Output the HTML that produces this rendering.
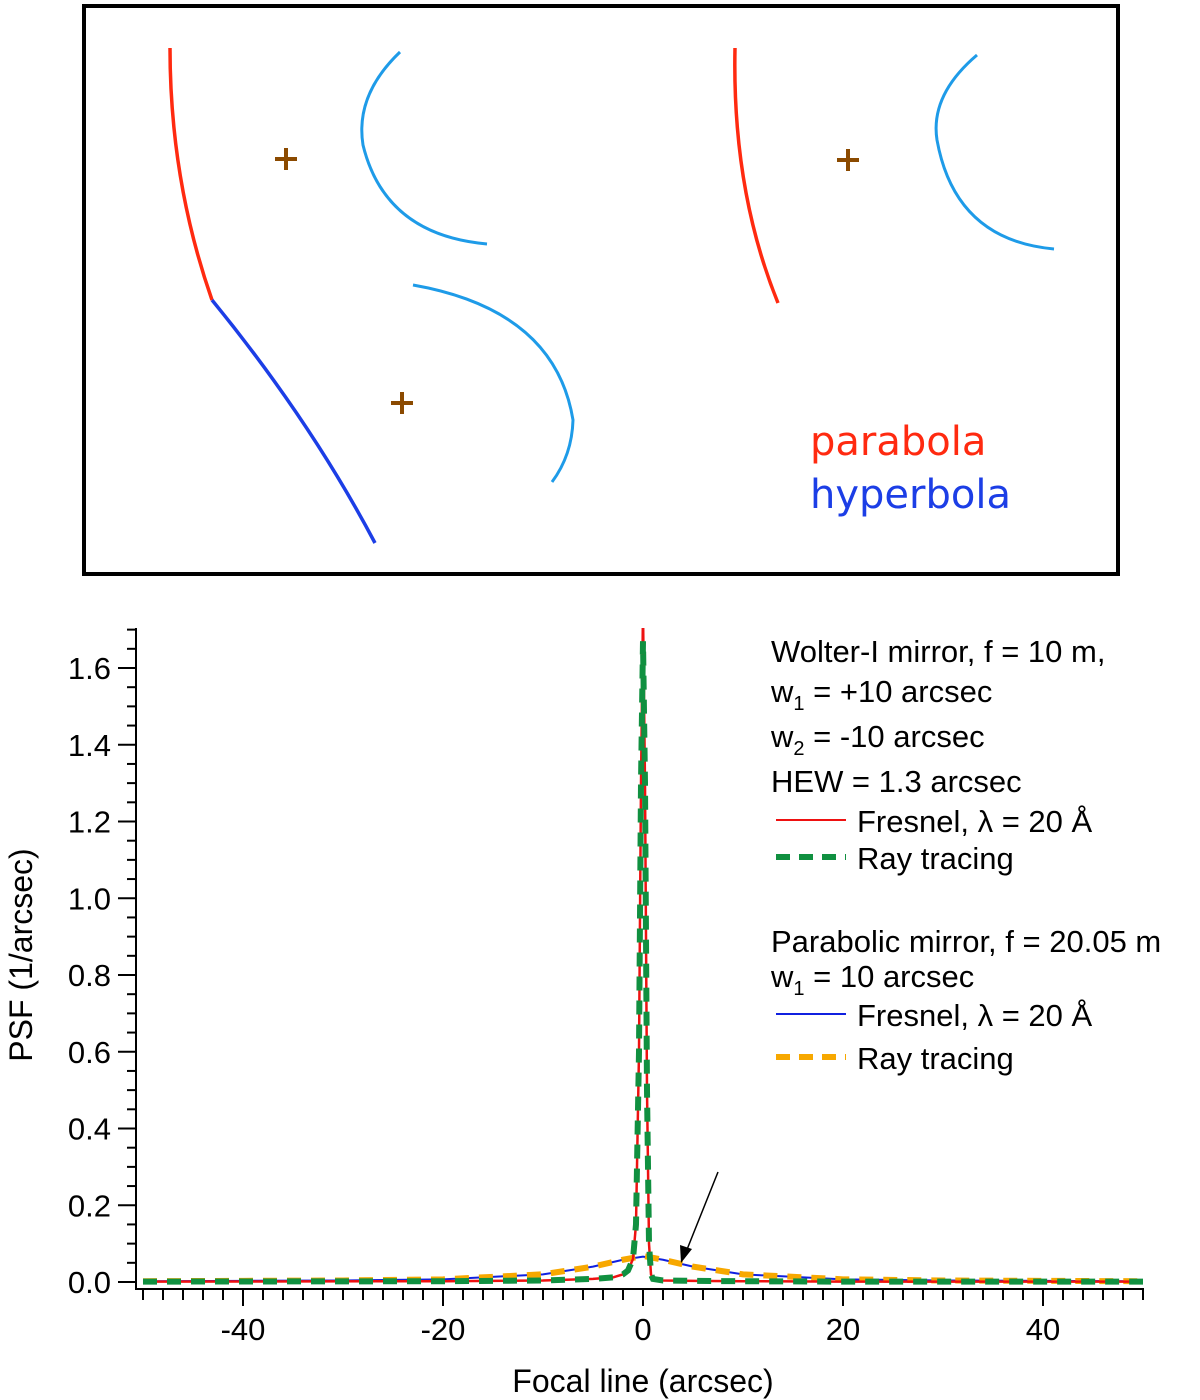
<!DOCTYPE html>
<html><head><meta charset="utf-8"><style>
body{margin:0;background:#fff;}
svg{display:block;font-family:"Liberation Sans",sans-serif;}
</style></head><body>
<svg id="fig" width="1200" height="1400">
<g>
<rect x="84" y="6" width="1034" height="568" fill="none" stroke="#000" stroke-width="4"/>
<path d="M170,48 Q170,180 212,300" fill="none" stroke="#ff2a10" stroke-width="3.5"/>
<path d="M212,300 Q310,420 375,543" fill="none" stroke="#1c3ee6" stroke-width="3.5"/>
<path d="M400,52 Q355,95 363,145 Q385,235 487,244" fill="none" stroke="#1e9be8" stroke-width="3"/>
<path d="M413,285 Q555,310 573,420 Q572,455 552,482" fill="none" stroke="#1e9be8" stroke-width="3"/>
<path d="M735,48 Q732,190 778,303" fill="none" stroke="#ff2a10" stroke-width="3.5"/>
<path d="M977,55 Q930,95 937,140 Q955,240 1054,249" fill="none" stroke="#1e9be8" stroke-width="3"/>
<g stroke="#8b4a00" stroke-width="4">
<path d="M275,159h22M286,148v22"/><path d="M837,160h22M848,149v22"/><path d="M391,403h22M402,392v22"/>
</g>
<text x="810" y="455" font-size="40" fill="#ff2a10" font-family="'Comic Sans MS','DejaVu Sans',sans-serif">parabola</text>
<text x="810" y="508" font-size="40" fill="#1c3ee6" font-family="'Comic Sans MS','DejaVu Sans',sans-serif">hyperbola</text>
</g>
<g id="chart"></g>
</svg>
<script>
const wolterX=[-50,-20,-10,-5,-3,-2,-1.5,-1,-0.7,-0.4,-0.2,0,0.2,0.4,0.6,0.8,1,2,5,10,20,50];
const wolterFresnel=[0.001,0.002,0.004,0.008,0.012,0.02,0.03,0.06,0.15,0.6,1.3,1.75,1.3,0.5,0.1,0.02,0.008,0.004,0.003,0.002,0.001,0.001];
const wolterRay=[0.001,0.002,0.004,0.008,0.012,0.02,0.03,0.06,0.15,0.6,1.3,1.67,1.3,0.5,0.1,0.02,0.008,0.004,0.003,0.002,0.001,0.001];
const paraX=[-50,-40,-30,-20,-10,-5,-2,0,2,5,10,20,30,40,50];
const paraFresnel=[0.002,0.003,0.004,0.007,0.02,0.04,0.058,0.066,0.058,0.04,0.02,0.007,0.004,0.003,0.002];
const paraRay=[0.002,0.003,0.004,0.007,0.02,0.04,0.058,0.068,0.058,0.04,0.02,0.007,0.004,0.003,0.002];
const yTicks=[0,0.2,0.4,0.6,0.8,1.0,1.2,1.4,1.6];
const xTicks=[-40,-20,0,20,40];
const NS="http://www.w3.org/2000/svg";
const g=document.getElementById('chart');
const sx=v=>643+v*10, sy=v=>1282-v*383.75;
function mk(t,a,p){const e=document.createElementNS(NS,t);for(const k in a)e.setAttribute(k,a[k]);(p||g).appendChild(e);return e;}
let ax=mk('line',{x1:136,y1:628,x2:136,y2:1289,stroke:'#000','stroke-width':2});


let bx=mk('line',{x1:135,y1:1289,x2:1144,y2:1289,stroke:'#000','stroke-width':2});


for(let v=0;v<=1.7001;v+=0.05){const maj=Math.abs(v/0.2-Math.round(v/0.2))<1e-6;
 const t=mk('line',{x1:maj?118:127,y1:sy(v),x2:136,y2:sy(v),stroke:'#000','stroke-width':2});
 
 }
yTicks.forEach(v=>{const t=mk('text',{x:111,y:sy(v)+11,'text-anchor':'end','font-size':31});t.textContent=v.toFixed(1);
 
 });
for(let v=-50;v<=50;v+=2){const maj=v%20===0;
 const t=mk('line',{x1:sx(v),y1:1289,x2:sx(v),y2:maj?1306:1300,stroke:'#000','stroke-width':2});
 
 }
xTicks.forEach(v=>{const t=mk('text',{x:sx(v),y:1340,'text-anchor':'middle','font-size':31});t.textContent=v;
 
 });
let xt=mk('text',{x:643,y:1392,'text-anchor':'middle','font-size':32});xt.textContent='Focal line (arcsec)';


let yt=mk('text',{x:0,y:0,'text-anchor':'middle','font-size':32,transform:'translate(32,955) rotate(-90)'});yt.textContent='PSF (1/arcsec)';


const clip=mk('clipPath',{id:'cp'});mk('rect',{x:137,y:628,width:1010,height:660},clip);
function series(xs,ys,st,name){const d=xs.map((x,i)=>(i?'L':'M')+sx(x)+','+sy(ys[i])).join('');
 const p=mk('path',Object.assign({d:d,fill:'none','clip-path':'url(#cp)'},st));
 
 }
series(paraX,paraFresnel,{stroke:'#1020e0','stroke-width':2},'parabolic-fresnel-line');
series(paraX,paraRay,{stroke:'#f7a800','stroke-width':6,'stroke-dasharray':'14 10'},'parabolic-ray-line');
series(wolterX,wolterFresnel,{stroke:'#ee1111','stroke-width':2.5},'wolter-fresnel-line');
series(wolterX,wolterRay,{stroke:'#109040','stroke-width':6,'stroke-dasharray':'14 10'},'wolter-ray-line');
let ar=mk('line',{x1:718,y1:1172,x2:686,y2:1252,stroke:'#000','stroke-width':1.5});


let ah=mk('path',{d:'M681,1263 L680,1245 L692,1249 Z',fill:'#000'});


const L=[['Wolter-I mirror, f = 10 m,',660],['w<tspan font-size="20" dy="8">1</tspan><tspan dy="-8"> = +10 arcsec</tspan>',700],['w<tspan font-size="20" dy="8">2</tspan><tspan dy="-8"> = -10 arcsec</tspan>',745],['HEW = 1.3 arcsec',790],['Parabolic mirror, f = 20.05 m',950],['w<tspan font-size="20" dy="8">1</tspan><tspan dy="-8"> = 10 arcsec</tspan>',985]];
L.forEach(([s,y])=>{const t=mk('text',{x:771,y:y+2,'font-size':31});t.innerHTML=s;
 
 });
const E=[['Fresnel, λ = 20 Å',830,{stroke:'#ee1111','stroke-width':2}],['Ray tracing',867,{stroke:'#109040','stroke-width':6,'stroke-dasharray':'14 9'}],['Fresnel, λ = 20 Å',1024,{stroke:'#1020e0','stroke-width':2}],['Ray tracing',1067,{stroke:'#f7a800','stroke-width':6,'stroke-dasharray':'14 9'}]];
E.forEach(([s,y,st])=>{const l=mk('line',Object.assign({x1:776,y1:y-10,x2:846,y2:y-10},st));
 
 
 const t=mk('text',{x:857,y:y+2,'font-size':31});t.textContent=s;
 
 });
</script>
</body></html>
